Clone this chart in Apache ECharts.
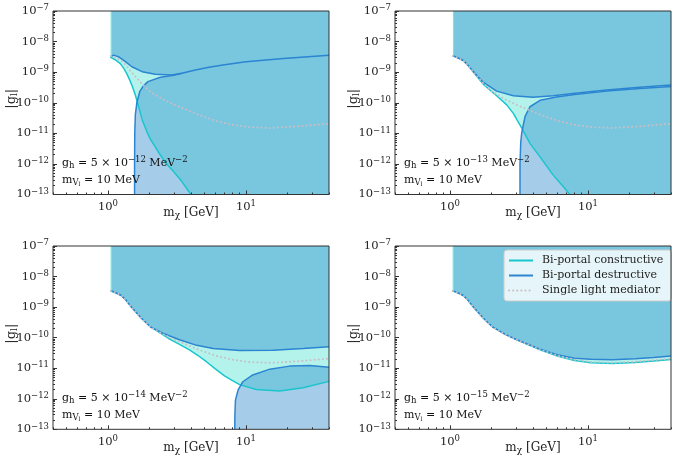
<!DOCTYPE html>
<html lang="en">
<head>
<meta charset="UTF-8">
<title>Bi-portal limits</title>
<script src="https://cdn.jsdelivr.net/npm/echarts@6.0.0/dist/echarts.min.js"></script>
<style>
    html, body { margin: 0; padding: 0; background: #fff; }
    #chart { width: 678px; height: 463px; }
</style>
</head>
<body>
<div id="chart"></div>
<script>
    // axis ranges and ticks
    var xRange = [0.4, 40];
    var yRange = [1e-13, 1e-7];
    var xMajor = [1, 10];
    var yMajor = [1e-13, 1e-12, 1e-11, 1e-10, 1e-9, 1e-8, 1e-7];
    var xMinor = [0.4, 0.5, 0.6, 0.7, 0.8, 0.9, 2, 3, 4, 5, 6, 7, 8, 9, 20, 30, 40];
    var yMinorMant = [2, 3, 4, 5, 6, 7, 8, 9];
    var yDecades = [-13, -12, -11, -10, -9, -8];

    var ghExp = ['−12', '−13', '−14', '−15'];

    // single light mediator (same in every panel)
    var single = [[1.05,3.4e-9],[1.15,2.9e-9],[1.25,2.4e-9],[1.35,1.7e-9],[1.48,1.0e-9],[1.6,6.8e-10],[1.75,4.3e-10],
        [2.05,2.2e-10],[2.5,1.3e-10],[3.0,8.8e-11],[3.5,6.6e-11],[4.5,4.1e-11],[6,2.6e-11],[8,1.9e-11],[10.5,1.6e-11],
        [15,1.5e-11],[22,1.65e-11],[30,1.85e-11],[40,2.05e-11]];

    // g_h = 5e-12
    var cons1 = [[1.04,3.1e-9],[1.12,2.6e-9],[1.23,1.9e-9],[1.3,1.35e-9],[1.37,9e-10],[1.44,5.5e-10],[1.5,3.5e-10],
        [1.58,1.8e-10],[1.67,7.4e-11],[1.77,2.8e-11],[1.92,1.1e-11],[2.03,6.5e-12],[2.3,2.6e-12],[2.61,1.1e-12],
        [3.0,5.5e-13],[3.4,2.8e-13],[4.0,1e-13]];
    var destUp1 = [[1.06,3.3e-9],[1.1,3.6e-9],[1.19,3.2e-9],[1.34,2.2e-9],[1.49,1.5e-9],[1.77,1.04e-9],[2.2,8.5e-10],
        [2.9,8.1e-10],[3.44,9.2e-10],[4.3,1.17e-9],[5.4,1.45e-9],[7,1.75e-9],[10,2.2e-9],[18.7,2.8e-9],[40,3.6e-9]];
    var destLow1 = [[1.56,1e-13],[1.56,1e-12],[1.565,1e-11],[1.58,4e-11],[1.62,1e-10],[1.7,2.3e-10],[1.8,3.5e-10],
        [1.95,4.9e-10],[2.4,6.8e-10],[3.0,7.9e-10],[3.44,9.2e-10]];

    // g_h = 5e-13
    var cons2 = [[1.05,3.4e-9],[1.15,2.9e-9],[1.25,2.4e-9],[1.35,1.7e-9],[1.48,1.0e-9],[1.75,4.0e-10],[2.18,1.7e-10],
        [2.58,8.5e-11],[2.88,4.5e-11],[3.31,1.5e-11],[3.8,4.7e-12],[4.5,1.7e-12],[5.6,4.3e-13],[6.5,2e-13],[7.4,1e-13]];
    var destUp2 = [[1.06,3.4e-9],[1.15,2.9e-9],[1.25,2.4e-9],[1.35,1.7e-9],[1.48,1.05e-9],[1.75,4.6e-10],[2.18,2.4e-10],
        [2.88,1.7e-10],[4.0,1.5e-10],[5.6,1.7e-10],[7.8,2.0e-10],[13.7,2.6e-10],[23.8,3.2e-10],[40,3.8e-10]];
    var destLow2 = [[3.22,1e-13],[3.22,1e-12],[3.26,5e-12],[3.31,1e-11],[3.5,3.5e-11],[3.8,7.4e-11],[4.5,1.2e-10],
        [5.9,1.55e-10],[8,1.85e-10],[13.7,2.4e-10],[23.8,2.95e-10],[40,3.4e-10]];

    // g_h = 5e-14
    var cons3 = [[1.04,3.4e-9],[1.15,2.9e-9],[1.25,2.4e-9],[1.35,1.7e-9],[1.48,1.0e-9],[1.6,6.8e-10],[1.75,4.3e-10],
        [2.05,2.2e-10],[2.5,1.25e-10],[2.8,9e-11],[3.3,6e-11],[3.9,4e-11],[4.5,2.6e-11],[5.2,1.6e-11],[6.0,9.5e-12],
        [7.0,5.6e-12],[8.0,3.9e-12],[9.0,2.9e-12],[11.9,2.0e-12],[17.6,1.8e-12],[26,2.3e-12],[40,3.7e-12]];
    var destUp3 = [[1.06,3.4e-9],[1.15,2.9e-9],[1.25,2.4e-9],[1.35,1.7e-9],[1.48,1.0e-9],[1.6,6.8e-10],[1.75,4.3e-10],
        [2.05,2.2e-10],[2.5,1.4e-10],[3.3,8.5e-11],[4.4,5.6e-11],[5.8,4.4e-11],[9,3.8e-11],[15.7,3.9e-11],[26,4.4e-11],[40,5e-11]];
    var destLow3 = [[8.3,1e-13],[8.32,3e-13],[8.4,9e-13],[8.8,2e-12],[9.5,3.6e-12],[11.2,6e-12],[14.9,9.3e-12],
        [20.7,1.17e-11],[29,1.23e-11],[40,1.08e-11]];

    // g_h = 5e-15
    var cons4 = [[1.04,3.4e-9],[1.15,2.9e-9],[1.25,2.4e-9],[1.35,1.7e-9],[1.48,1.0e-9],[1.6,6.8e-10],[1.75,4.3e-10],
        [2.05,2.2e-10],[2.5,1.3e-10],[3.0,8.8e-11],[3.5,6.5e-11],[4.5,4e-11],[6,2.5e-11],[8,1.8e-11],[10.5,1.5e-11],
        [15,1.42e-11],[22,1.55e-11],[30,1.72e-11],[40,1.92e-11]];
    var destUp4 = [[1.06,3.4e-9],[1.15,2.9e-9],[1.25,2.4e-9],[1.35,1.7e-9],[1.48,1.0e-9],[1.6,6.8e-10],[1.75,4.3e-10],
        [2.05,2.2e-10],[2.5,1.3e-10],[3.0,8.9e-11],[3.5,6.7e-11],[4.5,4.2e-11],[6,2.75e-11],[8,2.1e-11],[10.5,1.95e-11],
        [15,1.9e-11],[22,2.05e-11],[30,2.25e-11],[40,2.5e-11]];
    var destLow4 = [];

    var consList = [cons1, cons2, cons3, cons4];
    var upList = [destUp1, destUp2, destUp3, destUp4];
    var lowList = [destLow1, destLow2, destLow3, destLow4];

    var FONT = 'DejaVu Serif';
    var consColor = '#19c6cc';
    var destColor = '#2b85d0';
    var singleColor = '#c8bec6';
    var consFill = 'rgba(64,224,208,0.4)';
    var destFill = 'rgba(40,135,205,0.42)';

    var yMinor = [];
    yDecades.forEach(function (d) {
        yMinorMant.forEach(function (m) { yMinor.push(m * Math.pow(10, d)); });
    });

    // region above the constructive curve
    function consPoly(c) {
        var p = [[c[0][0], yRange[1]]].concat(c);
        if (c[c.length - 1][0] < xRange[1]) p.push([xRange[1], yRange[0]]);
        p.push([xRange[1], yRange[1]]);
        return p;
    }
    // region excluded by the destructive curve(s)
    function destPoly(up, low) {
        var lim = low.length ? low[low.length - 1][0] : Infinity;
        var p = [[up[0][0], yRange[1]]];
        up.forEach(function (pt) { if (pt[0] <= lim) p.push(pt); });
        if (low.length) {
            p = p.concat(low.slice().reverse());
            p.push([xRange[1], yRange[0]]);
        }
        p.push([xRange[1], yRange[1]]);
        return p;
    }

    var supRich = {
        sup: { fontSize: 8.5, fontFamily: FONT, verticalAlign: 'top', lineHeight: 8, color: '#222' },
        sub: { fontSize: 8.5, fontFamily: FONT, verticalAlign: 'bottom', lineHeight: 8, color: '#222' }
    };
    var nameRich = {
        sub: { fontSize: 9, fontFamily: FONT, verticalAlign: 'bottom', lineHeight: 8, color: '#222' }
    };
    function powLabel(v) {
        var e = Math.round(Math.log10(v));
        return '10{sup|' + (e < 0 ? '−' + (-e) : e) + '}';
    }

    var grids = [
        { left: 53, top: 11, width: 276, height: 183.5 },
        { left: 395, top: 11, width: 276, height: 183.5 },
        { left: 53, top: 246, width: 276, height: 183.3 },
        { left: 395, top: 246, width: 276, height: 183.3 }
    ];
    grids.forEach(function (g) {
        g.show = true;
        g.z = 6;
        g.backgroundColor = 'transparent';
        g.borderColor = '#333';
        g.borderWidth = 1;
        g.outerBoundsMode = 'none';
    });

    var xAxes = [], yAxes = [], series = [], graphics = [];

    for (var i = 0; i < 4; i++) {
        xAxes.push({
            type: 'log', logBase: 10, gridIndex: i, min: xRange[0], max: xRange[1], position: 'bottom', z: 5,
            axisLine: { show: false },
            axisTick: { show: true, inside: true, length: 4, customValues: xMajor, lineStyle: { color: '#333' } },
            axisLabel: { customValues: xMajor, formatter: powLabel, margin: 5, fontFamily: FONT, fontSize: 11.5,
                lineHeight: 15, color: '#222', rich: supRich },
            splitLine: { show: false },
            name: 'm{sub|χ} [GeV]', nameLocation: 'middle', nameGap: 11, nameMoveOverlap: false,
            nameTextStyle: { fontFamily: FONT, fontSize: 12, color: '#222', lineHeight: 15, rich: nameRich }
        });
        xAxes.push({
            type: 'log', logBase: 10, gridIndex: i, min: xRange[0], max: xRange[1], position: 'bottom', z: 5,
            axisLine: { show: false },
            axisTick: { show: true, inside: true, length: 2, customValues: xMinor, lineStyle: { color: '#333' } },
            axisLabel: { show: false }, splitLine: { show: false }
        });
        yAxes.push({
            type: 'log', logBase: 10, gridIndex: i, min: yRange[0], max: yRange[1], position: 'left', z: 5,
            axisLine: { show: false },
            axisTick: { show: true, inside: true, length: 4, customValues: yMajor, lineStyle: { color: '#333' } },
            axisLabel: { customValues: yMajor, formatter: powLabel, margin: 4, fontFamily: FONT, fontSize: 11.5,
                lineHeight: 15, color: '#222', rich: supRich },
            splitLine: { show: false },
            name: '|g{sub|l}|', nameLocation: 'middle', nameRotate: 90, nameGap: 34, nameMoveOverlap: false,
            nameTextStyle: { fontFamily: FONT, fontSize: 13, color: '#222', lineHeight: 15, rich: nameRich,
                padding: [0, 0, 0, 8] }
        });
        yAxes.push({
            type: 'log', logBase: 10, gridIndex: i, min: yRange[0], max: yRange[1], position: 'left', z: 5,
            axisLine: { show: false },
            axisTick: { show: true, inside: true, length: 2, customValues: yMinor, lineStyle: { color: '#333' } },
            axisLabel: { show: false }, splitLine: { show: false }
        });

        var xi = 2 * i, yi = 2 * i;
        var polyA = consPoly(consList[i]);
        var polyB = destPoly(upList[i], lowList[i]);
        [[polyA, consFill], [polyB, destFill]].forEach(function (f) {
            var poly = f[0], col = f[1];
            series.push({
                type: 'custom', xAxisIndex: xi, yAxisIndex: yi, data: poly, silent: true, clip: true, z: 1,
                renderItem: function (params, api) {
                    if (params.dataIndex !== 0) return null;
                    return { type: 'polygon', shape: { points: poly.map(function (p) { return api.coord(p); }) },
                        style: { fill: col } };
                }
            });
        });
        series.push({ name: 'Bi-portal constructive', type: 'line', xAxisIndex: xi, yAxisIndex: yi, data: consList[i],
            symbol: 'none', z: 3, lineStyle: { color: consColor, width: 1.5 }, itemStyle: { color: consColor } });
        series.push({ name: 'Bi-portal destructive', type: 'line', xAxisIndex: xi, yAxisIndex: yi, data: upList[i],
            symbol: 'none', z: 3, lineStyle: { color: destColor, width: 1.5 }, itemStyle: { color: destColor } });
        if (lowList[i].length) {
            series.push({ name: 'Bi-portal destructive', type: 'line', xAxisIndex: xi, yAxisIndex: yi, data: lowList[i],
                symbol: 'none', z: 3, lineStyle: { color: destColor, width: 1.5 }, itemStyle: { color: destColor } });
        }
        series.push({ name: 'Single light mediator', type: 'line', xAxisIndex: xi, yAxisIndex: yi, data: single,
            symbol: 'none', z: 4, lineStyle: { color: singleColor, width: 2, type: [0.1, 4], cap: 'round' },
            itemStyle: { color: singleColor } });

        var gx = grids[i].left + 9, gy = grids[i].top;
        graphics.push({ type: 'text', x: gx, y: gy + 152, z: 10, style: {
            text: 'g{sub|h} = 5 × 10{sup|' + ghExp[i] + '} MeV{sup|−2}', verticalAlign: 'middle',
            font: '11px "' + FONT + '"', fill: '#111', lineHeight: 15, rich: supRich } });
        graphics.push({ type: 'text', x: gx, y: gy + 169, z: 10, style: {
            text: 'm{sub|V}{sub2|l} = 10 MeV', verticalAlign: 'middle',
            font: '11px "' + FONT + '"', fill: '#111', lineHeight: 15,
            rich: { sub: supRich.sub, sub2: { fontSize: 6, fontFamily: FONT, verticalAlign: 'bottom', lineHeight: 4 } } } });
    }

    var myChart = echarts.init(document.getElementById('chart'));
    var option = {
        animation: false,
        grid: grids,
        xAxis: xAxes,
        yAxis: yAxes,
        legend: {
            data: ['Bi-portal constructive', 'Bi-portal destructive', 'Single light mediator'],
            left: 504, top: 250, orient: 'vertical',
            itemWidth: 24, itemHeight: 12, itemGap: 4,
            itemStyle: { opacity: 0 },
            backgroundColor: 'rgba(255,255,255,0.82)', borderColor: '#ccc', borderWidth: 1, borderRadius: 3,
            padding: [5, 8, 5, 4],
            textStyle: { fontFamily: FONT, fontSize: 11, color: '#222', padding: [0, 0, 0, 4] }
        },
        graphic: graphics,
        series: series
    };
    myChart.setOption(option);
</script>
</body>
</html>
